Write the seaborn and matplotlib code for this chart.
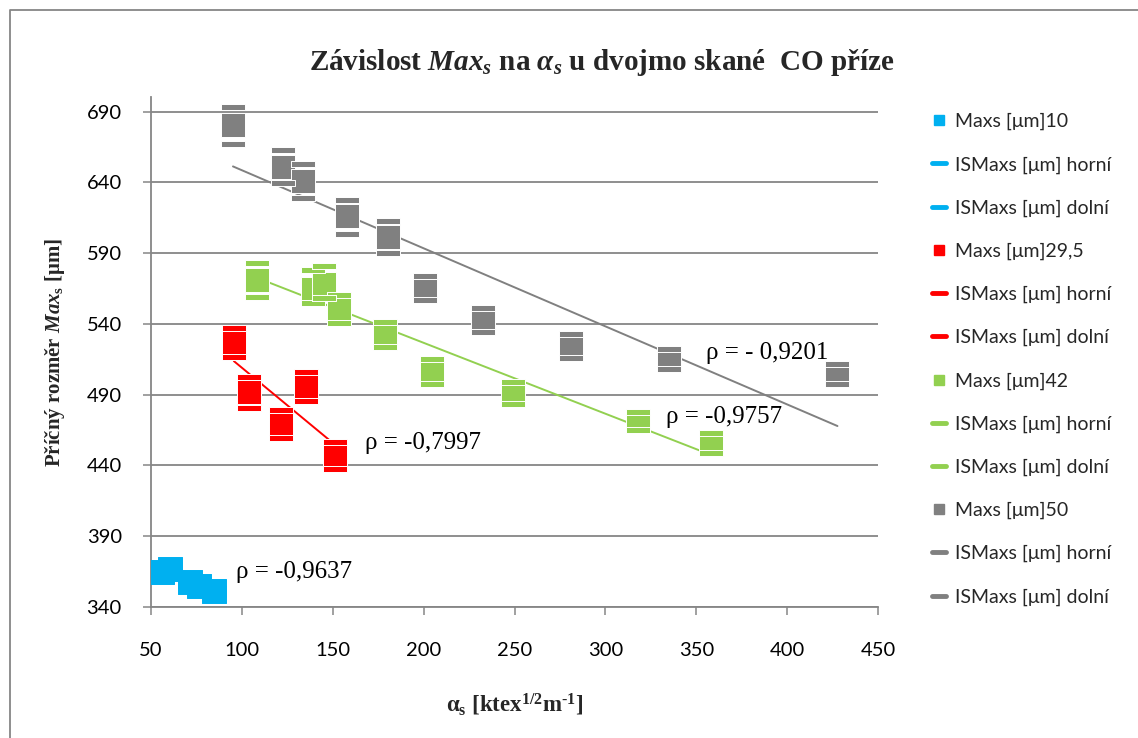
import matplotlib
matplotlib.use("Agg")
import matplotlib.pyplot as plt
import numpy as np
import seaborn as sns
from matplotlib.lines import Line2D

sns.set_theme(style="white")
plt.rcParams["font.family"] = ["Lato", "DejaVu Sans"]
plt.rcParams["mathtext.fontset"] = "custom"
plt.rcParams["mathtext.rm"] = "Liberation Serif:bold"
plt.rcParams["mathtext.it"] = "Liberation Serif:italic:bold"
plt.rcParams["mathtext.bf"] = "Liberation Serif:bold"

_blue = "#00B0F0"
_red = "#FF0000"
_green = "#92D050"
_gray = "#808080"
_grid = "#868686"

# Maxs 10
blue_x = [56.2, 60.4, 71.4, 76.5, 84.4]
blue_y = [365.0, 367.2, 357.4, 355.0, 351.2]
blue_hi = [367.5, 369.5, 359.5, 357.0, 353.0]
blue_lo = [362.5, 365.0, 355.3, 353.0, 349.4]

# Maxs 29,5
red_x = [95.6, 103.7, 121.4, 135.2, 151.4]
red_y = [527.0, 491.9, 469.7, 495.8, 447.0]
red_hi = [537.2, 502.5, 479.5, 506.0, 456.7]
red_lo = [516.6, 480.7, 459.5, 485.9, 437.4]

# Maxs 42
green_x = [108.2, 139.0, 145.0, 153.5, 178.7, 204.4, 249.4, 317.8, 357.9]
green_y = [571.4, 565.0, 568.5, 551.0, 532.5, 506.6, 491.0, 471.3, 455.7]
green_hi = [583.4, 578.2, 581.0, 560.8, 541.3, 515.4, 498.8, 477.6, 462.9]
green_lo = [559.0, 555.0, 558.0, 540.5, 523.7, 497.8, 483.2, 465.0, 448.5]

# Maxs 50
gray_x = [95.1, 122.7, 133.5, 158.0, 180.6, 200.5, 232.9, 281.0, 334.9, 427.7]
gray_y = [680.8, 650.8, 640.8, 616.0, 601.4, 565.5, 542.4, 524.6, 515.4, 504.8]
gray_hi = [693.5, 663.0, 653.1, 627.6, 612.8, 574.2, 551.0, 533.1, 522.4, 511.8]
gray_lo = [667.4, 639.6, 628.7, 603.5, 589.9, 557.2, 534.0, 516.1, 508.4, 497.8]

rho_labels = ["ρ = -0,9637", "ρ = -0,7997", "ρ = -0,9757", "ρ = - 0,9201"]
rho_x = [97.0, 167.5, 333.3, 355.3]
rho_y = [364.4, 456.2, 473.9, 519.8]

x_ticks = np.arange(50, 451, 50)
y_ticks = np.arange(340, 691, 50)

MARK = 285
CAP = [(-1, -0.28), (1, -0.28), (1, 0.28), (-1, 0.28), (-1, -0.28)]


def plot_group(ax, x, y, hi, lo, color, trend=True, edge="white"):
    common = dict(s=MARK, color=color, edgecolor=edge, linewidth=0.7, legend=False, ax=ax)
    if trend:
        k, q = np.polyfit(x, y, 1)
        xs = np.array([min(x), max(x)])
        ax.plot(xs, k * xs + q, color=color, lw=1.4, zorder=2)
    sns.scatterplot(x=x, y=y, marker="s", zorder=3, **common)
    sns.scatterplot(x=x, y=hi, marker=CAP, zorder=4, **common)
    sns.scatterplot(x=x, y=lo, marker=CAP, zorder=4, **common)


fig = plt.figure(figsize=(11.38, 7.38), dpi=100)
ax = fig.add_axes([151 / 1138, 1 - 607 / 738, 727 / 1138, 509.5 / 738])

plot_group(ax, blue_x, blue_y, blue_hi, blue_lo, _blue, trend=False, edge=_blue)
plot_group(ax, red_x, red_y, red_hi, red_lo, _red)
plot_group(ax, green_x, green_y, green_hi, green_lo, _green)
plot_group(ax, gray_x, gray_y, gray_hi, gray_lo, _gray)

for label, x, y in zip(rho_labels, rho_x, rho_y):
    ax.text(x, y, label, ha="left", va="center", fontsize=18,
            family="Liberation Serif", color="black")

ax.set_xlim(50, 450)
ax.set_ylim(340, 700)
ax.set_xticks(x_ticks)
ax.set_yticks(y_ticks)
ax.yaxis.grid(True, color=_grid, lw=1.3)
ax.xaxis.grid(False)
ax.set_axisbelow(True)
for side in ["top", "right"]:
    ax.spines[side].set_visible(False)
for side in ["left", "bottom"]:
    ax.spines[side].set_color(_grid)
    ax.spines[side].set_linewidth(1.3)
ax.tick_params(axis="both", direction="out", length=6, width=1.1, color=_grid,
               labelsize=14.5, labelcolor="black", bottom=True, left=True)
ax.tick_params(axis="x", pad=19)
ax.tick_params(axis="y", pad=15)

ax.set_xlabel(r"$\mathrm{\alpha_s}$ [ktex$^{\mathrm{1/2}}$m$^{\mathrm{‐1}}$]",
              family="Liberation Serif", weight="bold", fontsize=16.5)
ax.xaxis.set_label_coords(0.5, -0.192)
ax.xaxis.label.set_verticalalignment("center")
ax.set_ylabel(r"Příčný rozměr $Max_\mathrm{s}$ [μm]",
              family="Liberation Serif", weight="bold", fontsize=15)
ax.yaxis.set_label_coords(-0.132, 0.5)
ax.yaxis.label.set_verticalalignment("center")

fig.text(602 / 1138, 1 - 70 / 738, r"Závislost $Max_s$ na $\alpha_s$ u dvojmo skané  CO příze",
         ha="center", va="baseline", family="Liberation Serif", weight="bold", fontsize=21)

# legend in the Excel order: value series, upper bound, lower bound
handles, labels = [], []
for color, name in [(_blue, "10"), (_red, "29,5"), (_green, "42"), (_gray, "50")]:
    handles.append(Line2D([], [], ls="none", marker="s", ms=7.5, color=color))
    labels.append(f"Maxs [μm]{name}")
    for bound in ["horní", "dolní"]:
        handles.append(Line2D([], [], color=color, lw=3.5, solid_capstyle="round"))
        labels.append(f"ISMaxs [μm] {bound}")
fig.legend(handles, labels, loc="upper left", bbox_to_anchor=(932 / 1138, 1 - 113 / 738),
           frameon=False, fontsize=14, handlelength=0.7, handletextpad=0.5,
           labelspacing=1.33, borderpad=0, borderaxespad=0)

# chart border (cropped at right and bottom)
fig.add_artist(Line2D([9.5 / 1138, 9.5 / 1138, 1.0], [0.0, 1 - 10 / 738, 1 - 10 / 738],
                      color=_grid, lw=1.3, transform=fig.transFigure))

fig.savefig("out.png", dpi=100)
